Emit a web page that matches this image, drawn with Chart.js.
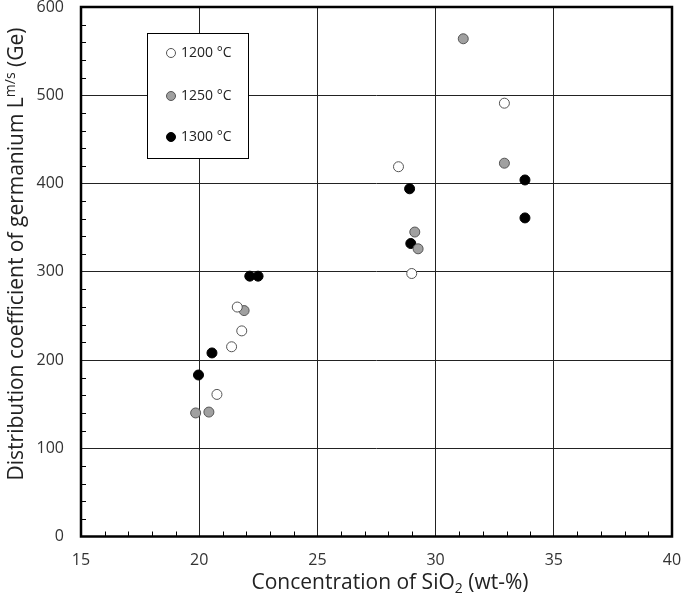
<!DOCTYPE html>
<html>
<head>
<meta charset="utf-8">
<script src="https://cdn.jsdelivr.net/npm/chart.js@4"></script>
<style>
  html, body { margin: 0; padding: 0; background: #fff; }
  #wrap { position: relative; width: 685px; height: 595px; }
</style>
</head>
<body>
<div id="wrap"><canvas id="geChart" width="685" height="595"></canvas></div>
<script>
// SiO2 (wt-%) and Ge distribution coefficient, per temperature
const x1200 = [21.61, 21.80, 21.37, 20.75, 32.91, 28.43, 28.99];
const y1200 = [260, 233, 215, 161, 491, 419, 298];
const x1250 = [21.90, 19.85, 20.41, 31.17, 32.91, 29.12, 29.26];
const y1250 = [256, 140, 141, 564, 423, 345, 326];
const x1300 = [22.14, 22.49, 20.54, 19.97, 33.78, 28.90, 33.78, 28.95];
const y1300 = [295, 295, 208, 183, 404, 394, 361, 332];

const seriesLabels = ['1200 °C', '1250 °C', '1300 °C'];
const xTicks = [15, 20, 25, 30, 35, 40];
const yTicks = [0, 100, 200, 300, 400, 500, 600];

const FONT = '"Open Sans", "Noto Sans", sans-serif';

function pts(xs, ys) {
  return xs.map((x, i) => ({ x: x, y: ys[i] }));
}

// frame, minor ticks, legend box and axis titles with sub/superscripts
const decorations = {
  id: 'decorations',
  afterDatasetsDraw(chart) {
    const ctx = chart.ctx;
    const area = chart.chartArea;
    const xs = chart.scales.x;
    const ys = chart.scales.y;
    ctx.save();

    // minor ticks inside the plot
    ctx.strokeStyle = '#000';
    ctx.lineWidth = 1;
    ctx.beginPath();
    for (let v = 16; v < 40; v++) {
      if (v % 5 === 0) continue;
      const px = Math.round(xs.getPixelForValue(v)) + 0.5;
      ctx.moveTo(px, area.bottom);
      ctx.lineTo(px, area.bottom - 5);
    }
    for (let v = 20; v < 600; v += 20) {
      if (v % 100 === 0) continue;
      const py = Math.round(ys.getPixelForValue(v)) + 0.5;
      ctx.moveTo(area.left, py);
      ctx.lineTo(area.left + 5, py);
    }
    ctx.stroke();

    // outer frame
    ctx.lineWidth = 2.5;
    ctx.strokeRect(area.left, area.top, area.right - area.left, area.bottom - area.top);

    // legend box
    const lx = 147, ly = 33, lw = 101, lh = 125;
    ctx.fillStyle = '#fff';
    ctx.fillRect(lx, ly, lw, lh);
    ctx.lineWidth = 1;
    ctx.strokeStyle = '#000';
    ctx.strokeRect(lx + 0.5, ly + 0.5, lw, lh);
    const rowY = [53, 96, 137];
    chart.data.datasets.forEach((ds, i) => {
      ctx.beginPath();
      ctx.arc(171, rowY[i], 4.5, 0, Math.PI * 2);
      ctx.fillStyle = ds.backgroundColor;
      ctx.fill();
      ctx.lineWidth = 1;
      ctx.strokeStyle = ds.borderColor;
      ctx.stroke();
      ctx.fillStyle = '#222';
      ctx.font = '14px ' + FONT;
      ctx.textAlign = 'left';
      ctx.textBaseline = 'middle';
      ctx.fillText(ds.label, 181, rowY[i]);
    });

    // x axis title: Concentration of SiO2 (wt-%)
    ctx.fillStyle = '#222';
    ctx.textBaseline = 'alphabetic';
    const big = '21px ' + FONT, small = '14px ' + FONT;
    let parts = [['Concentration of SiO', big, 0], ['2', small, 4], [' (wt-%)', big, 0]];
    let total = 0;
    parts.forEach(p => { ctx.font = p[1]; total += ctx.measureText(p[0]).width; });
    let cx = 390 - total / 2;
    parts.forEach(p => {
      ctx.font = p[1];
      ctx.fillText(p[0], cx, 589 + p[2]);
      cx += ctx.measureText(p[0]).width;
    });

    // y axis title, rotated: Distribution coefficient of germanium L^m/s (Ge)
    ctx.translate(23, 254);
    ctx.rotate(-Math.PI / 2);
    parts = [['Distribution coefficient of germanium L', big, 0], ['m/s', small, -8], [' (Ge)', big, 0]];
    total = 0;
    parts.forEach(p => { ctx.font = p[1]; total += ctx.measureText(p[0]).width; });
    cx = -total / 2;
    parts.forEach(p => {
      ctx.font = p[1];
      ctx.fillText(p[0], cx, p[2]);
      cx += ctx.measureText(p[0]).width;
    });
    ctx.restore();
  }
};

const ctx = document.getElementById('geChart').getContext('2d');
const geChart = new Chart(ctx, {
  type: 'scatter',
  data: {
    datasets: [
      {
        label: seriesLabels[0],
        data: pts(x1200, y1200),
        backgroundColor: '#ffffff',
        borderColor: '#555555',
        borderWidth: 1,
        pointRadius: 5
      },
      {
        label: seriesLabels[1],
        data: pts(x1250, y1250),
        backgroundColor: '#a0a0a0',
        borderColor: '#555555',
        borderWidth: 1,
        pointRadius: 5
      },
      {
        label: seriesLabels[2],
        data: pts(x1300, y1300),
        backgroundColor: '#000000',
        borderColor: '#000000',
        borderWidth: 1,
        pointRadius: 5
      }
    ]
  },
  options: {
    responsive: false,
    animation: false,
    layout: { padding: { top: 7, right: 13, left: 0, bottom: 0 } },
    plugins: {
      legend: { display: false },
      tooltip: { enabled: false }
    },
    scales: {
      x: {
        type: 'linear',
        min: 15,
        max: 40,
        afterFit(scale) {
          scale.height = 58.5;
          scale.paddingLeft = 0;
          scale.paddingRight = 0;
        },
        afterBuildTicks(scale) { scale.ticks = xTicks.map(v => ({ value: v })); },
        grid: { color: '#222', lineWidth: 1, drawTicks: false },
        border: { display: false },
        ticks: {
          padding: 14,
          color: '#333',
          font: { family: FONT, size: 16 },
          maxRotation: 0
        }
      },
      y: {
        type: 'linear',
        min: 0,
        max: 600,
        afterFit(scale) {
          scale.width = 81;
          scale.paddingTop = 0;
          scale.paddingBottom = 0;
        },
        afterBuildTicks(scale) { scale.ticks = yTicks.map(v => ({ value: v })); },
        grid: { color: '#222', lineWidth: 1, drawTicks: false },
        border: { display: false },
        ticks: {
          padding: 17,
          color: '#333',
          font: { family: FONT, size: 16 }
        }
      }
    }
  },
  plugins: [decorations]
});
</script>
</body>
</html>
